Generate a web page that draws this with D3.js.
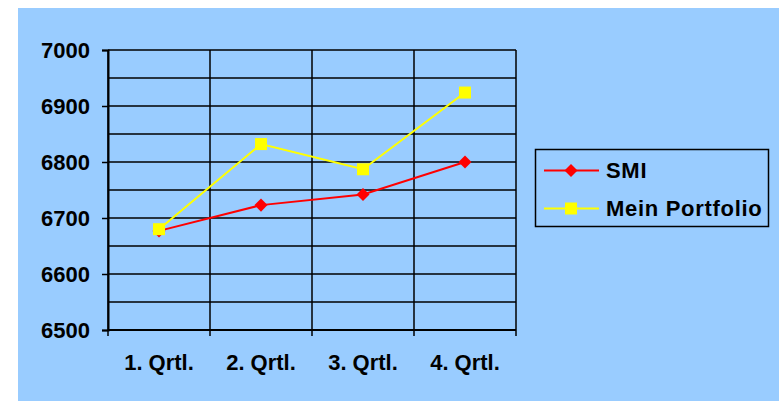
<!DOCTYPE html>
<html>
  <head>
    <style>
      body { margin: 0; background: #fff; }
      text { font-family: "Liberation Sans", Arial, sans-serif; font-weight: bold; fill: #000; }
    </style>
    <script src="https://d3js.org/d3.v7.min.js"></script>
  </head>
  <body>
    <svg class="chart"></svg>

    <script>
      const categories = ['1. Qrtl.', '2. Qrtl.', '3. Qrtl.', '4. Qrtl.'];
      const smi = [6677, 6723, 6742, 6800];
      const portfolio = [6680, 6832, 6787, 6924];
      const seriesNames = ['SMI', 'Mein Portfolio'];
      const yTicks = [6500, 6600, 6700, 6800, 6900, 7000];
      const yGrid = d3.range(6500, 7001, 50);

      const width = 784;
      const height = 401;
      const plot = { left: 108, right: 516, top: 50, bottom: 330 };

      const svg = d3.select('svg')
        .attr('width', width)
        .attr('height', height);

      svg.append('rect')
        .attr('x', 18).attr('y', 8)
        .attr('width', 761).attr('height', 393)
        .attr('fill', '#99ccff');

      const x = d3.scaleBand().domain(categories).range([plot.left, plot.right]);
      const y = d3.scaleLinear().domain([6500, 7000]).range([plot.bottom, plot.top]);

      // horizontal grid
      svg.append('g').selectAll('line')
        .data(yGrid)
        .join('line')
        .attr('x1', plot.left).attr('x2', plot.right)
        .attr('y1', d => y(d)).attr('y2', d => y(d))
        .attr('stroke', '#000').attr('stroke-width', 1.5);

      // vertical grid (category boundaries)
      const bounds = categories.map(c => x(c)).concat([plot.right]);
      svg.append('g').selectAll('line')
        .data(bounds)
        .join('line')
        .attr('x1', d => d).attr('x2', d => d)
        .attr('y1', plot.top).attr('y2', plot.bottom + 6)
        .attr('stroke', '#000').attr('stroke-width', 1.5);

      // y axis
      const yAxis = svg.append('g')
        .attr('transform', `translate(${plot.left},0)`)
        .call(d3.axisLeft(y).tickValues(yTicks).tickSize(6).tickPadding(12).tickFormat(d3.format('d')));
      yAxis.select('.domain').attr('stroke-width', 2);
      yAxis.selectAll('.tick line').attr('stroke-width', 1.5);
      yAxis.selectAll('text').attr('font-size', 22).style('font-family', '"Liberation Sans", Arial, sans-serif');

      svg.append('line')
        .attr('x1', plot.left).attr('x2', plot.right)
        .attr('y1', plot.bottom).attr('y2', plot.bottom)
        .attr('stroke', '#000').attr('stroke-width', 2);

      // x labels
      svg.append('g').selectAll('text')
        .data(categories)
        .join('text')
        .attr('x', d => x(d) + x.bandwidth() / 2)
        .attr('y', plot.bottom + 40)
        .attr('text-anchor', 'middle')
        .attr('font-size', 22)
        .text(d => d);

      const line = d3.line()
        .x((d, i) => x(categories[i]) + x.bandwidth() / 2)
        .y(d => y(d));

      const diamond = d3.symbol().type(d3.symbolSquare).size(85);
      const square = d3.symbol().type(d3.symbolSquare).size(144);

      function drawSeries(data, color, kind) {
        svg.append('path')
          .datum(data)
          .attr('d', line)
          .attr('fill', 'none')
          .attr('stroke', color)
          .attr('stroke-width', 2);
        svg.append('g').selectAll('path')
          .data(data)
          .join('path')
          .attr('d', kind === 'diamond' ? diamond : square)
          .attr('transform', (d, i) => `translate(${x(categories[i]) + x.bandwidth() / 2},${y(d)})` + (kind === 'diamond' ? ' rotate(45)' : ''))
          .attr('fill', color);
      }

      drawSeries(smi, '#ff0000', 'diamond');
      drawSeries(portfolio, '#ffff00', 'square');

      // legend
      const legend = svg.append('g');
      legend.append('rect')
        .attr('x', 535.5).attr('y', 149.5)
        .attr('width', 233).attr('height', 77)
        .attr('fill', 'none').attr('stroke', '#000').attr('stroke-width', 1.5);

      const legendItems = [
        { name: seriesNames[0], color: '#ff0000', kind: 'diamond' },
        { name: seriesNames[1], color: '#ffff00', kind: 'square' }
      ];
      const ly = d3.scalePoint().domain(seriesNames).range([170.5, 208.5]);
      const item = legend.selectAll('g.item')
        .data(legendItems)
        .join('g')
        .attr('class', 'item')
        .attr('transform', d => `translate(0,${ly(d.name)})`);
      item.append('line')
        .attr('x1', 544).attr('x2', 599)
        .attr('stroke', d => d.color).attr('stroke-width', 2);
      item.append('path')
        .attr('d', d => d.kind === 'diamond' ? diamond() : square())
        .attr('transform', d => 'translate(571,0)' + (d.kind === 'diamond' ? ' rotate(45)' : ''))
        .attr('fill', d => d.color);
      item.append('text')
        .attr('x', 606)
        .attr('dy', '0.36em')
        .attr('font-size', 22)
        .attr('letter-spacing', 0.7)
        .text(d => d.name);
    </script>
  </body>
</html>
